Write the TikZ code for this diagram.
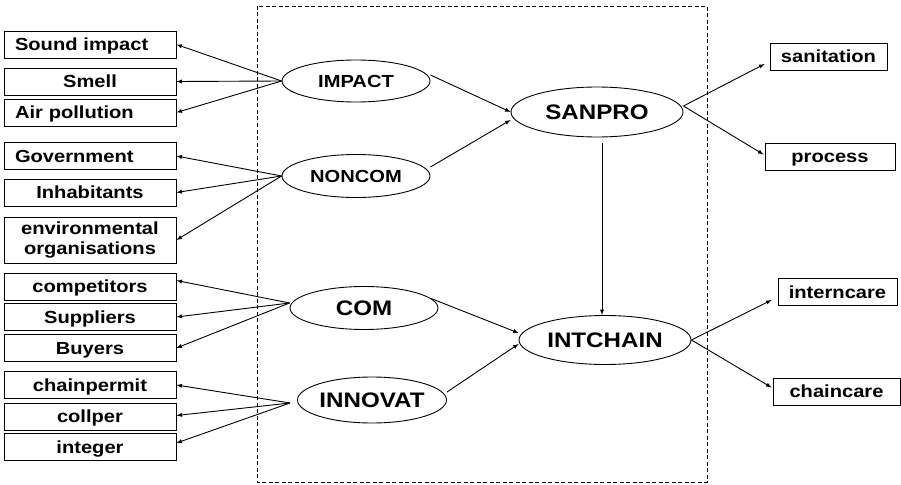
\documentclass[tikz,border=0pt]{standalone}
\usepackage{fontspec}
\setmainfont{Liberation Sans}[FakeStretch=1.15]
\usetikzlibrary{shapes.geometric}

\begin{document}
\begin{tikzpicture}[x=1pt, y=-1pt, line width=0.9pt,
                    boxbase/.style={draw, font=\fontsize{17.5}{20}\selectfont\bfseries,
                      inner xsep=11pt, inner ysep=0pt, text width=150pt,
                      align=center, minimum height=27pt},
                    box/.style={boxbase, text height=13pt, text depth=1pt},
                    leftbox/.style={box, align=left},
                    outbox/.style={draw, font=\fontsize{17.5}{20}\selectfont\bfseries,
                      inner sep=0pt, text height=13pt, text depth=1pt,
                      minimum width=#1, minimum height=27pt},
                    latent/.style={draw, ellipse, inner xsep=-8pt, inner ysep=0pt,
                      font=\fontsize{17.5}{20}\selectfont\bfseries},
                    biglatent/.style={latent, font=\fontsize{21}{24}\selectfont\bfseries},
                    link/.style={-latex}]
  \useasboundingbox (0,0) rectangle (901,484);

  % frame
  \draw[dash pattern=on 4pt off 2.5pt, line width=0.8pt] (257,6) rectangle (707,482);

  % indicators on the left
  \node[leftbox] (sound) at (90,44.5) {Sound impact};
  \node[box] (smell) at (90,81.5) {Smell};
  \node[leftbox] (air) at (90,112.5) {Air pollution};
  \node[leftbox] (gov) at (90,156) {Government};
  \node[box] (inhab) at (90,192.5) {Inhabitants};
  \node[boxbase, minimum height=46pt] (env) at (90,240) {environmental\\organisations};
  \node[box] (comp) at (90,286.5) {competitors};
  \node[box] (suppl) at (90,317) {Suppliers};
  \node[box] (buyers) at (90,348) {Buyers};
  \node[box] (permit) at (90,385) {chainpermit};
  \node[box] (collper) at (90,416.5) {collper};
  \node[box] (integer) at (90,447) {integer};

  % latent variables
  \node[latent, minimum width=148pt, minimum height=42pt] (impact) at (356,81) {IMPACT};
  \node[latent, minimum width=148pt, minimum height=43pt] (noncom) at (356,176) {NONCOM};
  \node[biglatent, minimum width=148pt, minimum height=43pt] (com) at (364,308) {COM};
  \node[biglatent, minimum width=149pt, minimum height=46pt] (innov) at (372,400) {INNOVAT};
  \node[biglatent, minimum width=172pt, minimum height=50pt] (sanpro) at (597,112) {SANPRO};
  \node[biglatent, minimum width=172pt, minimum height=49pt] (intchain) at (605,340) {INTCHAIN};

  % indicators on the right
  \node[outbox=117pt] (sanit) at (828.5,57) {sanitation};
  \node[outbox=130pt] (proc) at (830,156.5) {process};
  \node[outbox=119pt] (intern) at (837.5,292) {interncare};
  \node[outbox=127pt] (chainc) at (836.5,391.5) {chaincare};

  % arrows
  \foreach \b in {sound,smell,air}
    \draw[link] (impact.west) -- (\b.east);
  \foreach \b in {gov,inhab,env}
    \draw[link] (noncom.west) -- (\b.east);
  \foreach \b/\s in {comp/6,suppl/0,buyers/0}
    \draw[link] ([yshift=5pt]com.west) -- ([yshift=\s pt]\b.east);
  \coordinate (innovsrc) at (290,403);
  \foreach \b/\s in {permit/0,collper/1,integer/4}
    \draw[link] (innovsrc) -- ([yshift=\s pt]\b.east);

  \draw[link] ([yshift=6pt]impact.east) -- (sanpro.west);
  \draw[link] ([yshift=9pt]noncom.east) -- ([yshift=-8pt]sanpro.west);
  \draw[link] (com.8) -- ([yshift=7pt]intchain.west);
  \draw[link] ([yshift=8pt]innov.east) -- ([yshift=-4pt]intchain.west);
  \coordinate (vtop) at (602,143);
  \draw[link] (vtop) -- (vtop |- intchain.north);

  \draw[link] ([yshift=6pt]sanpro.east) -- ([xshift=-5pt,yshift=-7pt]sanit.west);
  \draw[link] ([yshift=6pt]sanpro.east) -- ([xshift=-1pt,yshift=2pt]proc.west);
  \draw[link] (intchain.east) -- ([xshift=-6pt,yshift=-8pt]intern.west);
  \draw[link] (intchain.east) -- ([xshift=-1pt,yshift=4pt]chainc.west);
\end{tikzpicture}
\end{document}
